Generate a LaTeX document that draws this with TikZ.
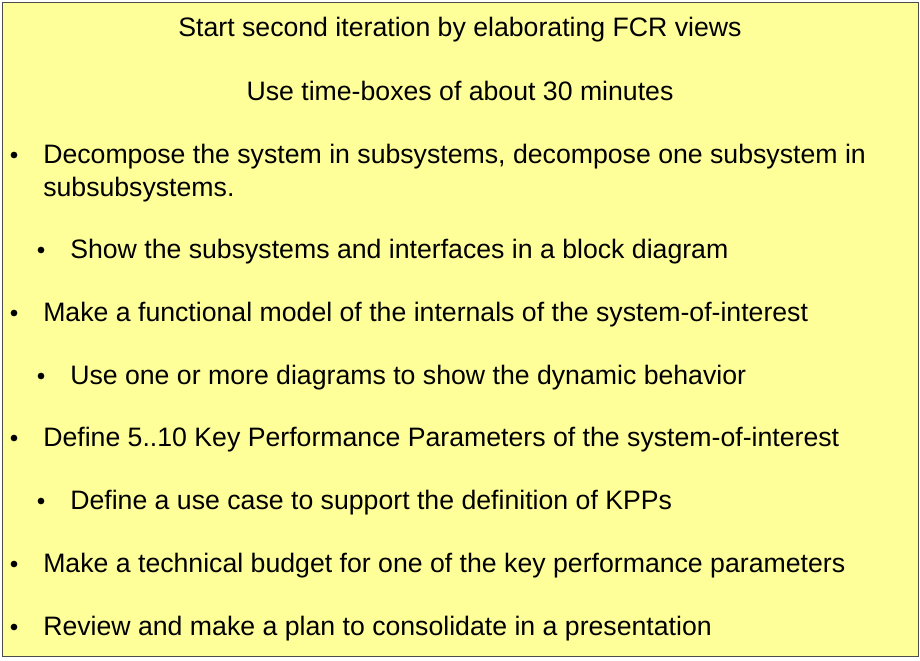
\documentclass[tikz,border=0pt]{standalone}
\usepackage{fontspec}
\setmainfont{Liberation Sans}
\definecolor{boxyellow}{HTML}{FFFF99}
\tikzset{
  txt/.style={anchor=base west, inner sep=0pt, font=\fontsize{20}{24}\selectfont},
  ctr/.style={anchor=base, inner sep=0pt, font=\fontsize{20}{24}\selectfont},
  dot/.style={circle, fill=black, inner sep=0pt, minimum size=5pt}
}
\begin{document}
\begin{tikzpicture}[x=0.75pt, y=-0.75pt]
  \useasboundingbox (0,0) rectangle (920,660);
  % Box
  \filldraw [fill=boxyellow, draw=black!70, line width=0.6pt] (2,2) rectangle (918,656);
  % Titles
  \node [ctr] (title) at (460,37) {Start second iteration by elaborating FCR views};
  \node [ctr] (tbox)  at (460,100) {Use time-boxes of about 30 minutes};
  % Bullets
  \foreach \y/\t/\lvl in {
      163/{Decompose the system in subsystems, decompose one subsystem in}/0,
      196/{subsubsystems.}/2,
      258/{Show the subsystems and interfaces in a block diagram}/1,
      321/{Make a functional model of the internals of the system-of-interest}/0,
      384/{Use one or more diagrams to show the dynamic behavior}/1,
      446/{Define 5..10 Key Performance Parameters of the system-of-interest}/0,
      509/{Define a use case to support the definition of KPPs}/1,
      572/{Make a technical budget for one of the key performance parameters}/0,
      635/{Review and make a plan to consolidate in a presentation}/0}{
    \ifnum\lvl=0
      \node [dot] at (14,\y-8) {};
      \node [txt] (item\y) at (43,\y) {\t};
    \fi
    \ifnum\lvl=1
      \node [dot] at (41,\y-8) {};
      \node [txt] (item\y) at (70,\y) {\t};
    \fi
    \ifnum\lvl=2
      \node [txt] (item\y) at (43,\y) {\t};
    \fi
  }
\end{tikzpicture}
\end{document}
